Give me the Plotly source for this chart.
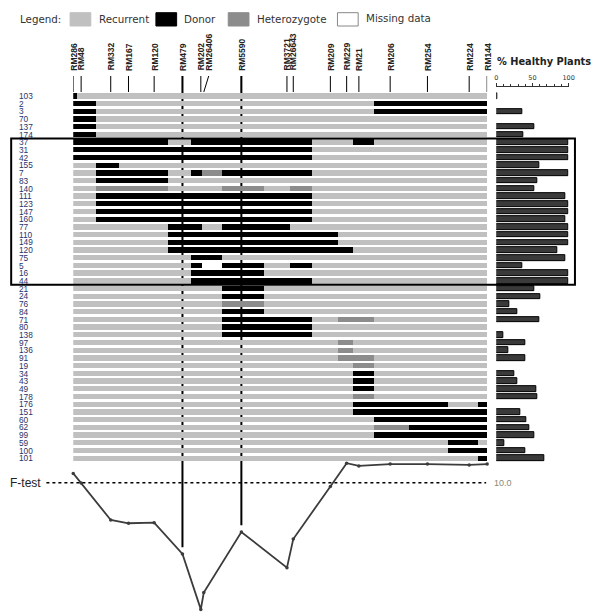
import plotly.graph_objects as go

# marker map positions (relative units along the chromosome)
markers = ["RM286", "RM48", "RM332", "RM167", "RM120", "RM479", "RM202", "RM26406",
           "RM5590", "RM3721", "RM26643", "RM209", "RM229", "RM21", "RM206", "RM254",
           "RM224", "RM144"]
marker_pos = [0, 8, 38, 56, 82, 110.7, 129.3, 132.3, 170.4, 216.6, 223, 260.6,
              277.1, 289.5, 321.2, 359, 401.3, 419.5]
qtl_markers = ["RM479", "RM5590"]

plants = ["103", "2", "3", "70", "137", "174", "37", "31", "42", "155", "7", "83",
          "140", "111", "123", "147", "160", "77", "110", "149", "120", "75", "5",
          "16", "44", "21", "24", "76", "84", "71", "80", "138", "97", "136", "91",
          "19", "34", "43", "49", "178", "176", "151", "60", "62", "99", "59", "100",
          "101"]

# genotype per marker: R recurrent, D donor, H heterozygote, M missing
genotypes = [
    "DRRRRRRRRRRRRRRRRR", "DDRRRRRRRRRRRRDDDD", "DDRRRRRRRRRRRRDDDD",
    "DDRRRRRRRRRRRRRRRR", "DDRRRRRRRRRRRRRRRR", "DDRRRRRRRRRRRRRRRR",
    "DDDDDRDDDDDRRDRRRR", "DDDDDDDDDDDRRRRRRR", "DDDDDDDDDDDRRRRRRR",
    "RRDRRRRRRRRRRRRRRR", "RRDDDRDHDDDRRRRRRR", "RRDDDRRRRRRRRRRRRR",
    "RRHHHRRRHRHRRRRRRR", "RRDDDDDDDDDRRRRRRR", "RRDDDDDDDDDRRRRRRR",
    "RRDDDDDDDDDRRRRRRR", "RRDDDDDDDDDRRRRRRR", "RRRRRDDRDDRRRRRRRR",
    "RRRRRDDDDDDDRRRRRR", "RRRRRDDDDDDDRRRRRR", "RRRRRDDDDDDDDRRRRR",
    "RRRRRRDDRRRRRRRRRR", "RRRRRRDMDRDRRRRRRR", "RRRRRRDDDRRRRRRRRR",
    "RRRRRRDDDDDRRRRRRR", "RRRRRRRRDRRRRRRRRR", "RRRRRRRRDRRRRRRRRR",
    "RRRRRRRRHRRRRRRRRR", "RRRRRRRRDRRRRRRRRR", "RRRRRRRRDDDRHHRRRR",
    "RRRRRRRRDDDRRRRRRR", "RRRRRRRRDDDRRRRRRR", "RRRRRRRRRRRRHRRRRR",
    "RRRRRRRRRRRRHRRRRR", "RRRRRRRRRRRRHHRRRR", "RRRRRRRRRRRRRHRRRR",
    "RRRRRRRRRRRRRDRRRR", "RRRRRRRRRRRRRDRRRR", "RRRRRRRRRRRRRDRRRR",
    "RRRRRRRRRRRRRHRRRR", "RRRRRRRRRRRRRDDDRD", "RRRRRRRRRRRRRDDDDD",
    "RRRRRRRRRRRRRRDDDD", "RRRRRRRRRRRRRRHDDD", "RRRRRRRRRRRRRRDDDD",
    "RRRRRRRRRRRRRRRRDR", "RRRRRRRRRRRRRRRRDD", "RRRRRRRRRRRRRRRRRD",
]

healthy = [1, None, 36, None, 52, 38, 100, 100, 100, 60, 100, 57, 52, 96, 100, 100,
           96, 100, 100, 100, 84, 95, 36, 100, 100, 52, 61, 18, 29, 60, None, 9, 40,
           17, 40, None, 25, 29, 55, 56, None, 33, 42, 45, 52, 11, 40, 67]

f_values = [5.5, 10.2, 28.0, 29.6, 29.3, 44.4, 71.2, 63.1, 33.8, 51.1, 37.2, 11.8,
            0.6, 1.9, 1.0, 1.0, 1.4, 1.0]
f_threshold = 10.0

geno_colors = {"R": "#c0c0c0", "D": "#000000", "H": "#8c8c8c", "M": "#ffffff"}
geno_names = {"R": "Recurrent", "D": "Donor", "H": "Heterozygote", "M": "Missing data"}

W, H = 600, 616
def px(x):
    return x / W
def py(y):
    return 1 - y / H

n = len(plants)
row_top, row_step = 96, 7.709
y_dom = [py(458.3 + row_step / 2), py(row_top - row_step / 2)]
f_top = 462
f_max = (H - f_top) / 2.07
f_dom = [0, py(f_top)]


def edge(i, side):
    if side == 0:
        return marker_pos[0] if i == 0 else (marker_pos[i - 1] + marker_pos[i]) / 2
    return marker_pos[-1] if i == len(marker_pos) - 1 else (marker_pos[i] + marker_pos[i + 1]) / 2


fig = go.Figure()

for g in ["R", "D", "H", "M"]:
    ys, bases, lens = [], [], []
    for r, s in enumerate(genotypes):
        i = 0
        while i < len(s):
            j = i
            while j + 1 < len(s) and s[j + 1] == s[i]:
                j += 1
            if s[i] == g:
                ys.append(r)
                bases.append(edge(i, 0))
                lens.append(edge(j, 1) - edge(i, 0))
            i = j + 1
    fig.add_trace(go.Bar(
        y=ys, x=lens, base=bases, orientation="h", width=0.69,
        marker=dict(color=geno_colors[g], line=dict(width=0)),
        name=geno_names[g], xaxis="x", yaxis="y", showlegend=False,
    ))

fig.add_trace(go.Bar(
    y=list(range(n)), x=healthy, orientation="h", width=0.72,
    marker=dict(color="#3a3a3a", line=dict(color="#000", width=1)),
    xaxis="x2", yaxis="y", showlegend=False,
))

fig.add_trace(go.Scatter(
    x=marker_pos, y=f_values, xaxis="x", yaxis="y2", mode="lines+markers",
    line=dict(color="#3c3c3c", width=1.8), marker=dict(size=3.5, color="#3c3c3c"),
    cliponaxis=False, showlegend=False,
))

shapes = []
annotations = []

# marker ticks and labels
for m, p in zip(markers, marker_pos):
    shift = 5 if m == "RM26406" else 0
    shapes.append(dict(type="line", xref="x", yref="paper", x0=p + shift, x1=p,
                       y0=py(76), y1=py(92), line=dict(color="#000", width=1)))
    annotations.append(dict(text="<b>%s</b>" % m, x=p + shift, xref="x", y=py(72.5),
                            yref="paper", textangle=-90, xanchor="center",
                            yanchor="bottom", showarrow=False,
                            font=dict(family="Arial", size=8.5, color="#222")))

# QTL lines
for m in qtl_markers:
    i = markers.index(m)
    bottom = f_dom[1] * (1 - (f_values[i] - 3.2) / f_max)
    shapes.append(dict(type="line", xref="x", yref="paper", x0=marker_pos[i],
                       x1=marker_pos[i], y0=py(76), y1=bottom, layer="below",
                       line=dict(color="#000", width=2)))

# row labels
for r, name in enumerate(plants):
    annotations.append(dict(text=name, x=px(15), xref="paper", y=r, yref="y",
                            xanchor="left", yanchor="middle", showarrow=False,
                            font=dict(family="Arial", size=8.3, color="#1f336e")))

# highlight box
shapes.append(dict(type="rect", xref="paper", yref="y", x0=px(9.3), x1=px(580.7),
                   y0=5.5, y1=24.5, line=dict(color="#000", width=2)))

# legend
annotations.append(dict(text="Legend:", x=px(16.7), y=py(19), xref="paper", yref="paper",
                        xanchor="left", yanchor="middle", showarrow=False,
                        font=dict(family="DejaVu Sans", size=10.3, color="#333")))
legend_items = [("R", 69, 96.7), ("D", 156, 182.7), ("H", 229.3, 256.7), ("M", 340, 366.7)]
for g, sx, tx in legend_items:
    shapes.append(dict(type="rect", xref="paper", yref="paper", x0=px(sx), x1=px(sx + 21),
                       y0=py(26), y1=py(12.7), fillcolor=geno_colors[g],
                       line=dict(color="#888" if g == "M" else geno_colors[g], width=1)))
    annotations.append(dict(text=geno_names[g], x=px(tx), y=py(19 if g != "M" else 17.7),
                            xref="paper", yref="paper", xanchor="left", yanchor="middle",
                            showarrow=False,
                            font=dict(family="DejaVu Sans", size=10.3, color="#333")))

annotations.append(dict(text="<b>% Healthy Plants</b>", x=px(499.5), y=py(61.7),
                        xref="paper", yref="paper", xanchor="left", yanchor="middle",
                        showarrow=False,
                        font=dict(family="DejaVu Sans", size=9.8, color="#222")))

# F-test threshold
shapes.append(dict(type="line", xref="paper", yref="y2", x0=px(45), x1=px(490.7),
                   y0=f_threshold, y1=f_threshold, line=dict(color="#000", width=1.5, dash="dot")))
annotations.append(dict(text="F-test", x=px(6), y=f_threshold, xref="paper", yref="y2",
                        xanchor="left", yanchor="middle", showarrow=False,
                        font=dict(family="Arial", size=12, color="#222")))
annotations.append(dict(text="%.1f" % f_threshold, x=px(496.7), y=f_threshold,
                        xref="paper", yref="y2", xanchor="left", yanchor="middle",
                        showarrow=False, font=dict(family="Arial", size=9, color="#8b8878")))

hidden = dict(visible=False, showgrid=False, zeroline=False)
fig.update_layout(
    width=W, height=H, autosize=False,
    margin=dict(l=0, r=0, t=0, b=0),
    paper_bgcolor="white", plot_bgcolor="rgba(0,0,0,0)",
    barmode="overlay", bargap=0,
    xaxis=dict(domain=[px(72.2), px(491.7)], range=[0, 419.5], anchor="y", **hidden),
    yaxis=dict(domain=y_dom, range=[n - 0.5, -0.5], anchor="x", **hidden),
    xaxis2=dict(domain=[px(501), px(574.3)], range=[0, 100], anchor="free",
                position=py(86), side="top", showgrid=False, zeroline=False,
                showline=True, linecolor="#333", linewidth=1,
                tickvals=[0, 50, 100], ticks="outside", ticklen=3, tickwidth=1,
                tickcolor="#333",
                minor=dict(tickvals=[10, 20, 30, 40, 60, 70, 80, 90], ticks="outside",
                           ticklen=2, tickcolor="#333"),
                tickfont=dict(family="DejaVu Sans", size=6.5, color="#333")),
    yaxis2=dict(domain=f_dom, range=[f_max, 0], anchor="x", **hidden),
    shapes=shapes, annotations=annotations,
)

# drop the default page margin so the figure sits at the window's top-left corner
fig.write_html("out.html", config={"displayModeBar": False},
               post_script="document.body.style.margin='0';")
